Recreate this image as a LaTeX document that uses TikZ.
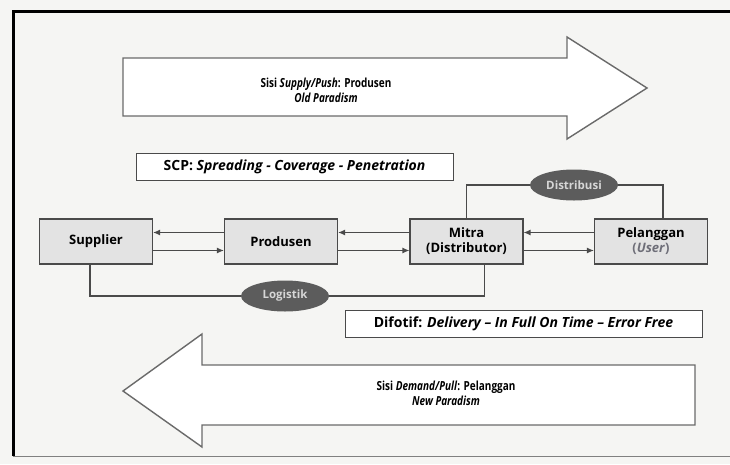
\documentclass[tikz,border=0pt]{standalone}
\usepackage{fontspec}
\setmainfont{Open Sans}
\newfontfamily\narrowfont{Open Sans}[FakeStretch=0.8]
\usetikzlibrary{arrows.meta,shapes.geometric}

\definecolor{paper}{HTML}{F5F5F3}
\definecolor{boxgray}{HTML}{E3E3E3}
\definecolor{linegray}{HTML}{4A4A4A}
\definecolor{blobgray}{HTML}{5C5C5C}
\definecolor{blobtext}{HTML}{D6D6D6}
\definecolor{arrowgray}{HTML}{6A6A6A}
\definecolor{usergray}{HTML}{6E6E78}

\begin{document}
\begin{tikzpicture}[x=1pt,y=-1pt,
  box/.style={draw=linegray,fill=boxgray,line width=1.1pt,minimum width=113pt,minimum height=45pt,align=center,font=\bfseries\fontsize{13}{15}\selectfont},
  blob/.style={ellipse,fill=blobgray,text=blobtext,minimum width=88pt,minimum height=31pt,inner sep=1pt,font=\bfseries\fontsize{11.5}{12}\selectfont},
  note/.style={draw=linegray,fill=white,line width=0.8pt,minimum height=27pt,inner xsep=2pt,font=\bfseries\fontsize{14}{16}\selectfont},
  flow/.style={draw=linegray,line width=1.2pt,-{Latex[length=7pt,width=6pt]}},
  link/.style={draw=linegray,line width=1.2pt},
  bigarrow/.style={draw=arrowgray,fill=white,line width=1.4pt,line join=miter},
  caption/.style={align=center,font=\narrowfont\bfseries\fontsize{12.5}{15}\selectfont}]
  \useasboundingbox (0,0) rectangle (730,464);
  \fill[paper] (0,0) rectangle (730,464);
  \draw[line width=3pt] (13,456) -- (13,11) -- (730,11);
  \draw[line width=0.8pt,gray] (13,456) -- (730,456);

  % push side
  \draw[bigarrow] (123,58) -- (567,58) -- (567,37) -- (647,88) -- (567,139) -- (567,116) -- (123,116) -- cycle;
  \node[caption] (push) at (326,90) {Sisi \emph{Supply/Push}: Produsen\\ \emph{Old Paradism}};

  \node[note,minimum width=317pt] (scp) at (294.5,166.5) {SCP: \emph{Spreading - Coverage - Penetration}};

  % chain
  \node[box] (supplier) at (96,241.5) {Supplier};
  \node[box] (produsen) at (281,241.5) {Produsen};
  \node[box] (mitra) at (466.5,241.5) {Mitra\\(Distributor)};
  \node[box] (pelanggan) at (651,241.5) {Pelanggan\\ {\color{usergray}(\emph{User})}};

  \draw[flow] ([yshift=9pt]produsen.west) -- ([yshift=9pt]supplier.east);
  \draw[flow] ([yshift=-9pt]supplier.east) -- ([yshift=-9pt]produsen.west);
  \draw[flow] ([yshift=9pt]mitra.west) -- ([yshift=9pt]produsen.east);
  \draw[flow] ([yshift=-9pt]produsen.east) -- ([yshift=-9pt]mitra.west);
  \draw[flow] ([yshift=9pt]pelanggan.west) -- ([yshift=9pt]mitra.east);
  \draw[flow] ([yshift=-9pt]mitra.east) -- ([yshift=-9pt]pelanggan.west);

  \node[blob] (distribusi) at (574,185) {Distribusi};
  \draw[link] (mitra.north) |- (distribusi.west);
  \draw[link] (distribusi.east) -| ([xshift=12pt]pelanggan.north);

  \node[blob] (logistik) at (285,296) {Logistik};
  \draw[link] ([xshift=-6pt]supplier.south) |- (logistik.west);
  \draw[link] (logistik.east) -| ([xshift=18pt]mitra.south);

  \node[note,minimum width=357pt] (difotif) at (523.5,323.5) {Difotif: \emph{Delivery -- In Full On Time -- Error Free}};

  % pull side
  \draw[bigarrow] (695,365) -- (202,365) -- (202,334) -- (123,391) -- (202,447) -- (202,425) -- (695,425) -- cycle;
  \node[caption] (pull) at (446,393) {Sisi \emph{Demand/Pull}: Pelanggan\\ \emph{New Paradism}};
\end{tikzpicture}
\end{document}
